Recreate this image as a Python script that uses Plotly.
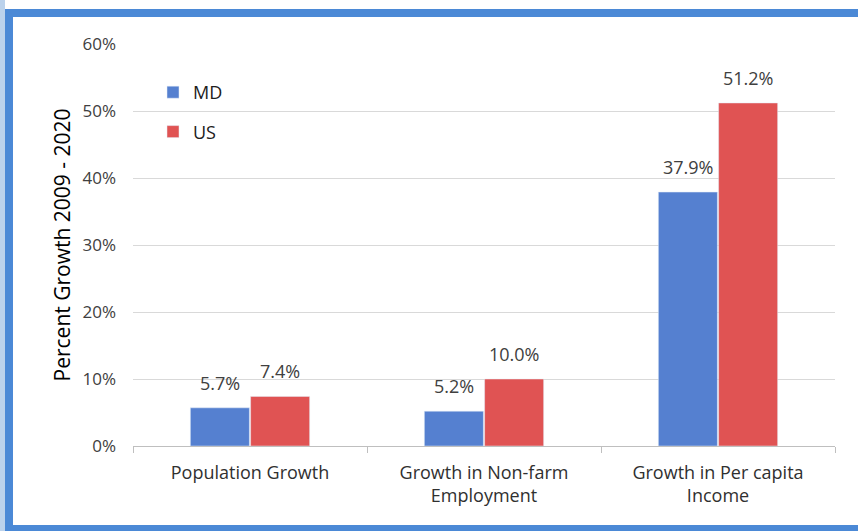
import plotly.graph_objects as go

categories = ["Population Growth", "Growth in Non-farm<br>Employment", "Growth in Per capita<br>Income"]
md_values = [5.7, 5.2, 37.9]
us_values = [7.4, 10.0, 51.2]
y_ticks = [0, 10, 20, 30, 40, 50, 60]
y_tick_labels = [f"{v}%" for v in y_ticks]

W, H = 858, 531
L, R, T, B = 133, 23, 44, 85
pw, ph = W - L - R, H - T - B

def px_x(x):
    return (x - L) / pw

def px_y(y):
    return (H - B - y) / ph

font_family = "Open Sans, Lato, sans-serif"
label_color = "#404040"

BARGAP = 0.485
GROUPGAP = 0.02
slot_px = pw / len(categories) * (1 - BARGAP) / 2
bar_shift = slot_px / 2

fig = go.Figure()
fig.add_trace(go.Bar(name="MD", x=categories, y=md_values, marker_color="#5580D0",
                     legendgroup="md"))
fig.add_trace(go.Bar(name="US", x=categories, y=us_values, marker_color="#E05353",
                     legendgroup="us"))

# value labels above each bar
for values, shift in ((md_values, -bar_shift), (us_values, bar_shift)):
    for cat, v in zip(categories, values):
        fig.add_annotation(x=cat, y=v, xref="x", yref="y", text=f"{v:.1f}%",
                           showarrow=False, yanchor="bottom", xshift=shift, yshift=11,
                           font=dict(size=18, color=label_color, family=font_family))

# outer blue frame around the chart
fig.add_shape(type="rect", xref="paper", yref="paper",
              x0=px_x(0), x1=px_x(5), y0=px_y(531), y1=px_y(0),
              fillcolor="#BBD2EC", line=dict(width=0), layer="below")
fig.add_shape(type="rect", xref="paper", yref="paper",
              x0=px_x(9), x1=px_x(866), y0=px_y(529), y1=px_y(13),
              line=dict(color="#4B89D6", width=8), fillcolor="rgba(0,0,0,0)")

fig.update_layout(
    width=W, height=H,
    margin=dict(l=L, r=R, t=T, b=B),
    paper_bgcolor="white", plot_bgcolor="white",
    barmode="group", bargap=BARGAP, bargroupgap=GROUPGAP,
    font=dict(family=font_family, color=label_color, size=16),
    legend=dict(x=px_x(153), y=px_y(74), xanchor="left", yanchor="top",
                bgcolor="rgba(0,0,0,0)", font=dict(size=18, color="#202020"),
                traceorder="grouped", tracegroupgap=13, itemwidth=30),
    xaxis=dict(type="category", showline=True, linecolor="#BFBFBF", linewidth=1,
               ticks="outside", tickson="boundaries", ticklen=6, tickcolor="#BFBFBF",
               ticklabelstandoff=10,
               tickfont=dict(size=18, color="#303030"), showgrid=False),
    yaxis=dict(range=[0, 60], tickmode="array", tickvals=y_ticks, ticktext=y_tick_labels,
               showgrid=True, gridcolor="#D9D9D9", gridwidth=1,
               zeroline=False, showline=False, ticks="",
               ticklabelstandoff=16,
               tickfont=dict(size=17, color=label_color),
               title=dict(text="Percent Growth 2009 - 2020",
                          font=dict(size=21, color="#000000"), standoff=6)),
)

fig.write_html("out.html")
